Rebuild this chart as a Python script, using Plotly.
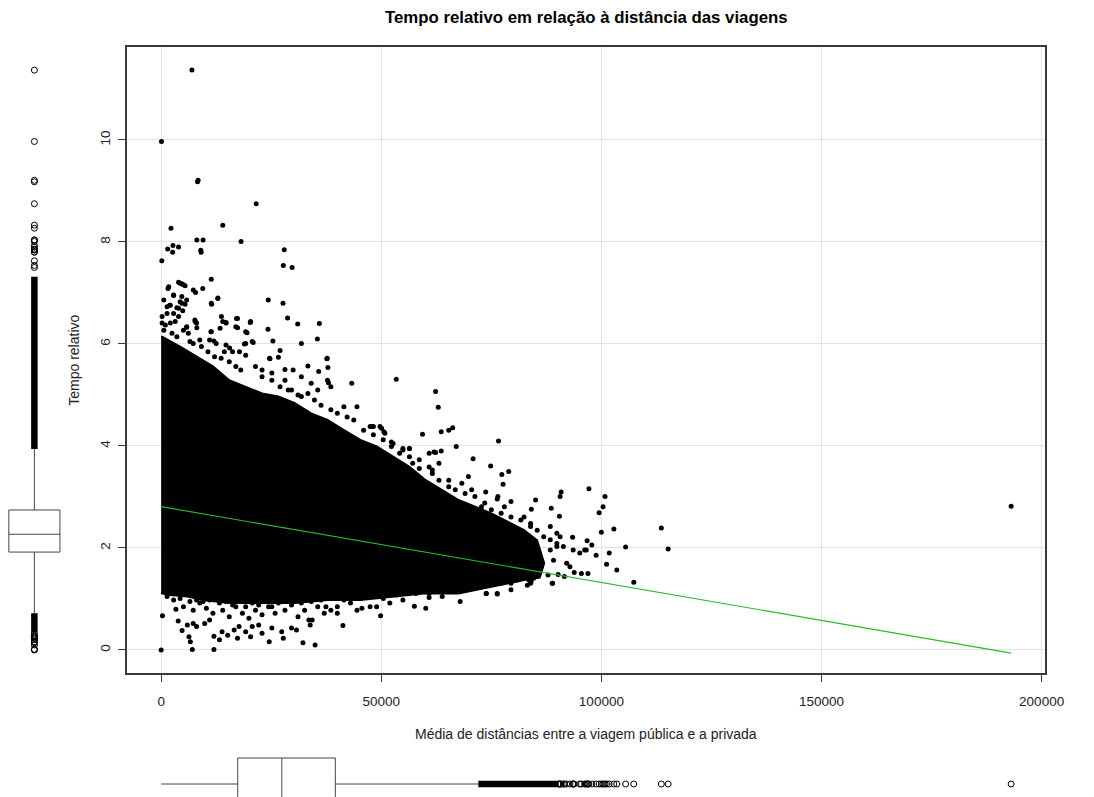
import plotly.graph_objects as go

W, H = 1094, 797

# ---------------- data ----------------
x_ticks = [0, 50000, 100000, 150000, 200000]
x_tick_labels = ["0", "50000", "100000", "150000", "200000"]
y_ticks = [0, 2, 4, 6, 8, 10]
y_tick_labels = ["0", "2", "4", "6", "8", "10"]

# outline of the saturated (solid black) core of the point cloud
core_x = [0, 220, 4310, 8040, 11760, 15470, 19200, 22920, 26630, 30360, 34080,
          37790, 41520, 45240, 48950, 52680, 56400, 60110, 67560, 75000, 82430,
          85400, 87000, 86000, 82430, 75000, 67560, 60110, 52680, 45240, 37790,
          30360, 22920, 15470, 9500, 5950, 2000, 0]
core_y = [6.14, 6.14, 5.95, 5.75, 5.56, 5.29, 5.16, 5.03, 4.97, 4.84, 4.64,
          4.51, 4.31, 4.12, 3.99, 3.79, 3.59, 3.33, 2.94, 2.68, 2.35,
          2.15, 1.70, 1.42, 1.37, 1.24, 1.11, 1.11, 1.05, 0.98, 0.98,
          0.92, 0.92, 0.92, 0.98, 1.05, 1.08, 1.11]

# individual points outside / on the fringe of the solid core
pts_x = [6990, 70, 8260, 8400, 21580, 14000, 2230, 8100, 9530, 18150,
         1490, 2680, 3950, 2610, 9000, 9080, 150, 27970, 27750, 29750,
         11380, 1560, 3950, 4690, 5430, 7300, 7810, 9450, 2830,
         4690, 4310, 5430, 1940, 3570, 4910, 12880, 11460, 24330, 27680,
         28720, 31020, 35940, 13690, 17120, 20240, 14730, 17350, 13390, 24260,
         19490, 11310, 7740, 8100, 5800, 35490, 31850, 25380, 20910, 18900,
         11990, 15560, 17790, 27010, 37720, 24620,
         53410, 62340, 62940, 59370, 43300, 37650, 37880, 47920, 49700, 50600,
         52680, 54910, 56400, 60870, 62340, 24710, 26630, 33330, 35780, 37790,
         38010, 29980, 28120,
         1720, 4310, 5060, 2830, 4690, 2080, 3950, 5800, 11380, 12880,
         960, 2080, 3190, 5800, 8040, 7660, 11380, 13990, 14730, 17340,
         16960, 20310, 19200, 20690, 19200, 12500, 14350, 11000, 8770, 6540,
         22920, 25150, 28120, 31850, 34080, 35560, 29620, 31850, 38550, 41510,
         44480, 47470,
         63610, 65330, 66220, 76630, 67030, 61980, 63610, 70860, 74840, 78950,
         77380, 77670, 85040, 84080, 88610, 90840, 90620, 90470, 97160, 93450,
         96570, 73720, 76330, 79460, 88390, 89880,
         48210, 50070, 50820, 52300, 54910, 56400, 57140, 58630, 61600, 63100,
         65330, 68300, 69790, 70530, 73500, 76490, 77970, 82430, 83920,
         100820, 100370, 99480, 113610, 115170, 102830, 99990, 105500, 101780, 101180,
         103500, 107360, 96760, 97830, 98810, 96200, 95080, 95460, 96940, 93820,
         91580, 90170, 88830, 83920, 87870, 92110, 92850, 89130, 88390, 89880,
         90620, 76330, 73810, 79460, 83540,
         0, 300, 3350, 3870, 4750, 6320, 6630, 7080, 11990,
         5950, 7290, 8040, 9890, 11000, 11990, 13240, 13840, 15110, 16580,
         17700, 19200, 20690, 20310, 17340, 22160, 22920, 24550, 25150, 27740,
         27390, 29620, 30730, 32210, 34970, 33550, 34300, 33850, 41290, 49840,
         57520, 60110, 60870, 45600, 47470, 38550, 40020, 37430, 67920, 73880,
         76330, 79460, 83180, 84080, 88910,
         5060, 7290, 8780, 10270, 11760, 13990, 15470, 16960, 18460, 19930,
         21430, 22920, 24400, 25890, 28120, 29620, 31090, 32590, 35560, 37050,
         40020, 43010, 44480, 48950, 51940, 54910, 63840,
         220, 600, 1340, 2460, 3570, 5060, 6180, 7290, 9150, 10640,
         12130, 13620, 15470, 16960, 18080, 14730, 16220, 19200, 21430, 22920,
         25150, 27010, 28870, 31090, 33330, 34820, 36310, 38550, 40020, 42250,
         43750, 45980, 48210, 50440, 52300, 54170, 56400, 58630, 60870,
         61600, 63100, 65330, 66810, 69040, 71270, 72760, 75000, 77230, 79460,
         81690, 83920, 85420, 86900, 88390, 89880, 91360, 93590,
         1340, 2830, 4310, 6540, 8040, 9530, 11000, 13240, 14730, 16220,
         17700, 19200, 20690, 22160, 23660, 25150, 26630, 28860, 30360, 31850,
         34080, 36310, 38550, 41520, 45240, 47470, 50440, 53410, 57880, 60870,
         65330, 69790, 72760, 77230, 80950, 84670,
         600, 1340, 2830, 220, 3950,
         193070]
pts_y = [11.37, 9.97, 9.18, 9.21, 8.75, 8.33, 8.27, 8.04, 8.04, 8.01,
         7.86, 7.93, 7.90, 7.80, 7.84, 7.80, 7.63, 7.85, 7.54, 7.50,
         7.27, 7.09, 7.21, 7.18, 7.14, 7.06, 7.01, 7.09, 6.95,
         6.93, 6.83, 6.78, 6.76, 6.71, 6.65, 6.89, 6.78, 6.86, 6.80,
         6.51, 6.39, 6.40, 6.54, 6.50, 6.42, 6.42, 6.32, 6.31, 6.29,
         6.22, 6.24, 6.44, 6.32, 6.33, 6.10, 6.01, 6.06, 6.03, 6.00,
         6.06, 5.92, 5.85, 5.87, 5.72, 5.72,
         5.31, 5.07, 4.76, 4.23, 5.23, 5.71, 5.54, 4.38, 4.38, 4.28,
         4.05, 3.92, 3.95, 3.86, 3.87, 5.71, 5.74, 5.57, 5.46, 5.29,
         5.24, 5.49, 5.50,
         7.12, 7.19, 7.16, 6.96, 6.80, 6.76, 6.70, 6.86, 6.80, 6.90,
         6.37, 6.41, 6.44, 6.34, 6.41, 6.47, 6.24, 6.44, 6.41, 6.50,
         6.34, 6.44, 6.24, 6.05, 6.01, 6.01, 5.85, 6.08, 6.08, 6.05,
         5.49, 5.43, 5.29, 5.36, 5.23, 5.10, 5.10, 4.97, 5.16, 4.77,
         4.77, 4.38,
         4.28, 4.31, 4.36, 4.10, 3.99, 3.88, 3.90, 3.75, 3.61, 3.50,
         3.44, 3.25, 2.94, 2.76, 2.78, 3.10, 3.01, 2.62, 3.16, 2.21,
         1.96, 3.10, 2.96, 2.91, 2.42, 2.29,
         4.38, 4.35, 4.25, 4.08, 3.95, 3.95, 3.66, 3.56, 3.53, 3.66,
         3.33, 3.27, 3.40, 3.14, 2.88, 3.01, 2.81, 2.61, 2.42,
         3.01, 2.81, 2.69, 2.39, 1.98, 2.37, 2.31, 2.02, 1.90, 1.68,
         1.57, 1.33, 2.14, 2.06, 1.86, 1.96, 1.90, 1.50, 1.50, 1.52,
         1.44, 1.48, 1.31, 1.31, 1.47, 1.70, 1.63, 1.76, 1.96, 2.03,
         2.22, 1.10, 1.11, 1.31, 1.37,
         0.00, 0.67, 0.80, 0.57, 0.38, 0.26, 0.16, 0.01, 0.01,
         0.49, 0.52, 0.46, 0.52, 0.59, 0.27, 0.20, 0.36, 0.29, 0.39,
         0.46, 0.36, 0.46, 0.26, 0.23, 0.49, 0.33, 0.16, 0.43, 0.23,
         0.36, 0.43, 0.39, 0.14, 0.10, 0.59, 0.59, 0.49, 0.48, 0.67,
         0.86, 0.82, 1.03, 0.82, 0.85, 0.78, 0.72, 0.85, 0.95, 1.11,
         1.11, 1.18, 1.27, 1.36, 1.31,
         0.85, 0.78, 0.92, 0.82, 0.72, 0.78, 0.65, 0.85, 0.72, 0.62,
         0.78, 0.69, 0.85, 0.72, 0.78, 0.88, 0.65, 0.78, 0.85, 0.72,
         0.85, 0.92, 0.78, 0.85, 0.92, 0.98, 1.05,
         6.41, 6.27, 6.60, 6.21, 6.14, 6.27, 6.21, 6.01, 5.95, 5.85,
         5.75, 5.72, 5.65, 5.56, 5.49, 5.98, 5.85, 5.78, 5.56, 5.36,
         5.29, 5.16, 5.10, 5.00, 5.03, 4.90, 4.80, 4.71, 4.64, 4.57,
         4.51, 4.31, 4.22, 4.12, 3.99, 3.86, 3.79, 3.73, 3.59,
         3.46, 3.33, 3.20, 3.14, 3.07, 3.01, 2.81, 2.75, 2.68, 2.61,
         2.55, 2.48, 2.35, 2.22, 2.16, 2.09, 2.03, 1.96,
         1.05, 0.98, 1.01, 0.95, 0.98, 0.95, 0.98, 0.92, 0.95, 0.88,
         0.95, 0.85, 0.92, 0.88, 0.95, 0.85, 0.92, 0.98, 0.95, 0.92,
         0.95, 0.98, 1.01, 0.98, 1.01, 1.05, 1.01, 1.08, 1.11, 1.11,
         1.14, 1.21, 1.24, 1.31, 1.37, 1.41,
         6.86, 6.73, 6.60, 6.54, 6.54,
         2.82]

# fitted regression line
fit_x = [0, 193070]
fit_y = [2.81, -0.06]

# box plot of the distances (x)
dist_lower, dist_q1, dist_median, dist_q3, dist_upper = 0, 17390, 27410, 39560, 72050
dist_dense = [72050, 90060]          # run of overlapping outlier circles
# box plot of relative time (y)
time_lower, time_q1, time_median, time_q3, time_upper = 0.72, 1.92, 2.27, 2.745, 3.94
time_dense_hi = [3.94, 7.32]
time_dense_lo = [0.35, 0.72]

# ---------------- geometry ----------------
x_range = [-7723, 200793]
y_range = [-0.455, 11.825]
px_left, px_right, px_top, px_bottom = 129.4, 1063.6, 46.9, 673.2
dom_x = [px_left / W, px_right / W]
dom_y = [1 - px_bottom / H, 1 - px_top / H]

FONT = "Liberation Sans, Arial, Helvetica, sans-serif"
INK = "#222222"
FRAME = "#3a3a3a"
GRID = "#e2e2e2"

fig = go.Figure()

# solid core of the cloud
fig.add_trace(go.Scatter(x=core_x, y=core_y, mode="lines", fill="toself",
                         fillcolor="black", line=dict(color="black", width=2),
                         hoverinfo="skip"))
# individual points
fig.add_trace(go.Scatter(x=pts_x, y=pts_y, mode="markers",
                         marker=dict(color="black", size=5, line=dict(width=0))))
# regression line
fig.add_trace(go.Scatter(x=fit_x, y=fit_y, mode="lines",
                         line=dict(color="#2db82d", width=1.2)))

# ----- left box plot (relative time) -----
fig.add_trace(go.Box(x=[0], q1=[time_q1], median=[time_median], q3=[time_q3],
                     lowerfence=[time_lower], upperfence=[time_upper],
                     orientation="v", width=2, whiskerwidth=0, boxpoints=False,
                     fillcolor="white", line=dict(color="#444444", width=1),
                     xaxis="x2", yaxis="y2"))
for band in (time_dense_hi, time_dense_lo):
    fig.add_trace(go.Scatter(x=[0, 0], y=band, mode="lines",
                             line=dict(color="black", width=6.5),
                             xaxis="x2", yaxis="y2"))
time_out = [v for v in pts_y if v > time_dense_hi[1] or v < time_dense_lo[0]]
fig.add_trace(go.Scatter(x=[0] * len(time_out), y=time_out, mode="markers",
                         marker=dict(symbol="circle-open", size=6, color="black",
                                     line=dict(width=1, color="black")),
                         xaxis="x2", yaxis="y2"))

# ----- bottom box plot (distance) -----
fig.add_trace(go.Box(y=[0], q1=[dist_q1], median=[dist_median], q3=[dist_q3],
                     lowerfence=[dist_lower], upperfence=[dist_upper],
                     orientation="h", width=2, whiskerwidth=0, boxpoints=False,
                     fillcolor="white", line=dict(color="#444444", width=1),
                     xaxis="x3", yaxis="y3"))
fig.add_trace(go.Scatter(x=dist_dense, y=[0, 0], mode="lines",
                         line=dict(color="black", width=6.5),
                         xaxis="x3", yaxis="y3"))
dist_out = [v for v in pts_x if v > dist_dense[1]]
fig.add_trace(go.Scatter(x=dist_out, y=[0] * len(dist_out), mode="markers",
                         marker=dict(symbol="circle-open", size=6, color="black",
                                     line=dict(width=1, color="black")),
                         xaxis="x3", yaxis="y3"))

axis_common = dict(showline=True, mirror=True, linecolor=FRAME, linewidth=1.5,
                   ticks="outside", ticklen=7, tickcolor=FRAME, tickwidth=1,
                   showgrid=True, gridcolor=GRID, gridwidth=1, zeroline=False,
                   tickfont=dict(family=FONT, size=13.5, color=INK))

fig.update_layout(
    width=W, height=H, margin=dict(l=0, r=0, t=0, b=0),
    paper_bgcolor="white", plot_bgcolor="white", showlegend=False,
    font=dict(family=FONT, color=INK),
    xaxis=dict(domain=dom_x, range=x_range, tickmode="array", tickvals=x_ticks,
               ticktext=x_tick_labels, anchor="y", ticklabelstandoff=8,
               **axis_common),
    yaxis=dict(domain=dom_y, range=y_range, tickmode="array", tickvals=y_ticks,
               ticktext=y_tick_labels, anchor="x", tickangle=-90,
               ticklabelstandoff=3, **axis_common),
    xaxis2=dict(domain=[0, 70 / W], range=[-1.346, 1.346], visible=False,
                anchor="y2", fixedrange=True),
    yaxis2=dict(domain=dom_y, range=y_range, visible=False, anchor="x2"),
    xaxis3=dict(domain=dom_x, range=x_range, visible=False, anchor="y3"),
    yaxis3=dict(domain=[0, 52 / H], range=[-0.5, 1.5], visible=False,
                anchor="x3"),
    annotations=[
        dict(text="<b>Tempo relativo em relação à distância das viagens</b>",
             x=(px_left + px_right) / 2 / W, y=1 - 17 / H, xref="paper",
             yref="paper", showarrow=False, xanchor="center", yanchor="middle",
             font=dict(family=FONT, size=16.8, color="black")),
        dict(text="Tempo relativo", x=75 / W,
             y=1 - (px_top + px_bottom) / 2 / H, xref="paper", yref="paper",
             showarrow=False, textangle=-90, xanchor="center",
             yanchor="middle", font=dict(family=FONT, size=14, color=INK)),
        dict(text="Média de distâncias entre a viagem pública e a privada",
             x=(px_left + px_right) / 2 / W, y=1 - 734 / H, xref="paper",
             yref="paper", showarrow=False, xanchor="center",
             yanchor="middle", font=dict(family=FONT, size=14, color=INK)),
    ],
)

fig.write_html("out.html",
               config={"displayModeBar": False},
               post_script="document.body.style.margin='0px';"
                           "document.body.style.overflow='hidden';")
